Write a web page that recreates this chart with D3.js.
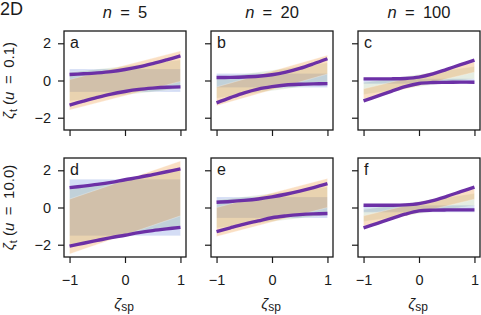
<!DOCTYPE html>
<html>
<head>
<meta charset="utf-8">
<script src="https://cdn.jsdelivr.net/npm/d3@7"></script>
<style>
  body { margin: 0; background: #fff; }
  svg text { font-family: "Liberation Sans", Arial, sans-serif; fill: #1a1a1a; }
</style>
</head>
<body>
<div id="chart"></div>
<script>
	'use strict';

	// panel labels and header texts
	var panelIds = ["a", "b", "c", "d", "e", "f"];
	var nLabels = ["5", "20", "100"];
	var uLabels = ["0.1", "10.0"];
	var xTicks = [-1, 0, 1];
	var yTicks = [-2, 0, 2];

	// x positions where the envelope curves were read
	var curveX = [-1, -0.75, -0.5, -0.25, 0, 0.25, 0.5, 0.75, 1];

	// purple envelopes (upper / lower) per panel
	var upperA = [0.32, 0.36, 0.41, 0.48, 0.59, 0.73, 0.91, 1.11, 1.32];
	var lowerA = [-1.32, -1.11, -0.91, -0.73, -0.59, -0.48, -0.41, -0.36, -0.34];
	var upperB = [0.16, 0.17, 0.19, 0.23, 0.31, 0.45, 0.65, 0.9, 1.17];
	var lowerB = [-1.2, -0.92, -0.66, -0.46, -0.33, -0.24, -0.2, -0.18, -0.17];
	var upperC = [0.09, 0.09, 0.09, 0.11, 0.18, 0.35, 0.6, 0.85, 1.1];
	var lowerC = [-1.1, -0.84, -0.58, -0.33, -0.16, -0.11, -0.1, -0.09, -0.09];
	var upperD = [1.07, 1.15, 1.24, 1.35, 1.49, 1.62, 1.77, 1.92, 2.08];
	var lowerD = [-2.08, -1.92, -1.77, -1.62, -1.49, -1.35, -1.24, -1.15, -1.07];
	var upperE = [0.28, 0.32, 0.38, 0.46, 0.57, 0.71, 0.88, 1.07, 1.28];
	var lowerE = [-1.3, -1.09, -0.89, -0.72, -0.55, -0.45, -0.38, -0.34, -0.32];
	var upperF = [0.12, 0.12, 0.12, 0.14, 0.21, 0.37, 0.6, 0.85, 1.1];
	var lowerF = [-1.1, -0.85, -0.6, -0.36, -0.18, -0.14, -0.13, -0.13, -0.13];

	// shaded bands: [low at x=-1, high at x=-1, low at x=1, high at x=1]
	var bandX = [-1, 1];
	var blueBand = [
		[-0.62, 0.62, -0.62, 0.62], [-0.38, 0.38, -0.38, 0.38], [-0.18, 0.1, -0.18, 0.1],
		[-1.52, 1.52, -1.52, 1.52], [-0.57, 0.57, -0.57, 0.57], [-0.25, 0.12, -0.25, 0.12]
	];
	var greenBand = [
		[-1.1, 0.45, -0.45, 1.1], [-0.95, 0.15, -0.15, 0.95], [-0.75, -0.1, 0.1, 0.75],
		[-2.0, 1.0, -1.0, 2.0], [-1.1, 0.4, -0.4, 1.1], [-0.75, -0.1, 0.1, 0.75]
	];
	var orangeBand = [
		[-1.58, 0.05, -0.05, 1.58], [-1.36, -0.35, 0.35, 1.36], [-1.0, -0.45, 0.45, 1.0],
		[-2.5, 0.45, -0.45, 2.5], [-1.56, 0.0, 0.0, 1.56], [-1.0, -0.45, 0.45, 1.0]
	];

	var uppers = [upperA, upperB, upperC, upperD, upperE, upperF];
	var lowers = [lowerA, lowerB, lowerC, lowerD, lowerE, lowerF];

	var width = 481, height = 315;
	var panelW = 122, panelH = 99;
	var lefts = [64, 211, 358], tops = [31, 158];
	var eqSpace = "\u2002=\u2002";

	var svg = d3.select("#chart").append("svg")
		.attr("width", width)
		.attr("height", height);

	var x = d3.scaleLinear().domain([-1.1, 1.1]).range([0, panelW]);
	var y = d3.scaleLinear().domain([-2.66, 2.66]).range([panelH, 0]);

	var fmt = function(d) { return d < 0 ? "\u2212" + Math.abs(d) : String(d); };

	var bandArea = d3.area()
		.x(function(d) { return x(d.x); })
		.y0(function(d) { return y(d.lo); })
		.y1(function(d) { return y(d.hi); });

	var line = d3.line()
		.x(function(d, i) { return x(curveX[i]); })
		.y(function(d) { return y(d); })
		.curve(d3.curveCatmullRom);

	function bandPoints(b) {
		return bandX.map(function(bx, i) { return { x: bx, lo: b[i * 2], hi: b[i * 2 + 1] }; });
	}

	var bandStyles = [
		{ data: blueBand, fill: "#5577d6", op: 0.25 },
		{ data: greenBand, fill: "#6f9a60", op: 0.18 },
		{ data: orangeBand, fill: "#f0a050", op: 0.34 }
	];

	panelIds.forEach(function(id, k) {
		var row = Math.floor(k / 3), col = k % 3;
		var g = svg.append("g")
			.attr("transform", "translate(" + lefts[col] + "," + tops[row] + ")");

		bandStyles.forEach(function(s) {
			g.append("path").datum(bandPoints(s.data[k]))
				.attr("d", bandArea)
				.attr("fill", s.fill).attr("fill-opacity", s.op)
				.attr("stroke", "#ffffff").attr("stroke-opacity", 0.35).attr("stroke-width", 0.8);
		});

		[uppers[k], lowers[k]].forEach(function(c) {
			g.append("path").datum(c)
				.attr("d", line)
				.attr("fill", "none")
				.attr("stroke", "#6c30a6")
				.attr("stroke-width", 3.4);
		});

		var ya = g.append("g").call(d3.axisLeft(y).tickValues(yTicks).tickSize(6).tickPadding(7)
			.tickFormat(col === 0 ? fmt : ""));
		var xa = g.append("g").attr("transform", "translate(0," + panelH + ")")
			.call(d3.axisBottom(x).tickValues(xTicks).tickSize(6).tickPadding(12)
			.tickFormat(row === 1 ? fmt : ""));
		[ya, xa].forEach(function(a) {
			a.select(".domain").remove();
			a.selectAll("line").attr("stroke", "#1a1a1a").attr("stroke-width", 1.2);
			a.selectAll("text").attr("font-size", 14.5).attr("fill", "#1a1a1a")
				.style("font-family", "'Liberation Sans', Arial, sans-serif");
		});

		g.append("rect")
			.attr("width", panelW).attr("height", panelH)
			.attr("fill", "none").attr("stroke", "#1a1a1a").attr("stroke-width", 1.3);

		g.append("text").attr("x", 6).attr("y", 17)
			.attr("font-size", 16).text(id);

		if (row === 0) {
			var t = g.append("text").attr("x", panelW / 2).attr("y", -13)
				.attr("text-anchor", "middle").attr("font-size", 16.5);
			t.append("tspan").attr("font-style", "italic").text("n");
			t.append("tspan").text(eqSpace + nLabels[col]);
		}
		if (row === 1) {
			var xl = g.append("text").attr("x", panelW / 2 - 1).attr("y", panelH + 52)
				.attr("text-anchor", "middle").attr("font-size", 15);
			xl.append("tspan").attr("font-style", "italic").text("\u03b6");
			xl.append("tspan").attr("font-size", 12).attr("dy", 2).text("sp");
		}
		if (col === 0) {
			var yl = g.append("text")
				.attr("transform", "translate(-50," + (panelH / 2) + ") rotate(-90)")
				.attr("text-anchor", "middle").attr("font-size", 15);
			yl.append("tspan").attr("font-style", "italic").text("\u03b6");
			yl.append("tspan").attr("font-size", 11).attr("dy", 3).text("t");
			yl.append("tspan").attr("dy", -3).text(" (");
			yl.append("tspan").attr("font-style", "italic").text("u");
			yl.append("tspan").text(eqSpace + uLabels[row] + ")");
		}
	});

	svg.append("text").attr("x", 0).attr("y", 15).attr("font-size", 18).text("2D");
</script>
</body>
</html>
